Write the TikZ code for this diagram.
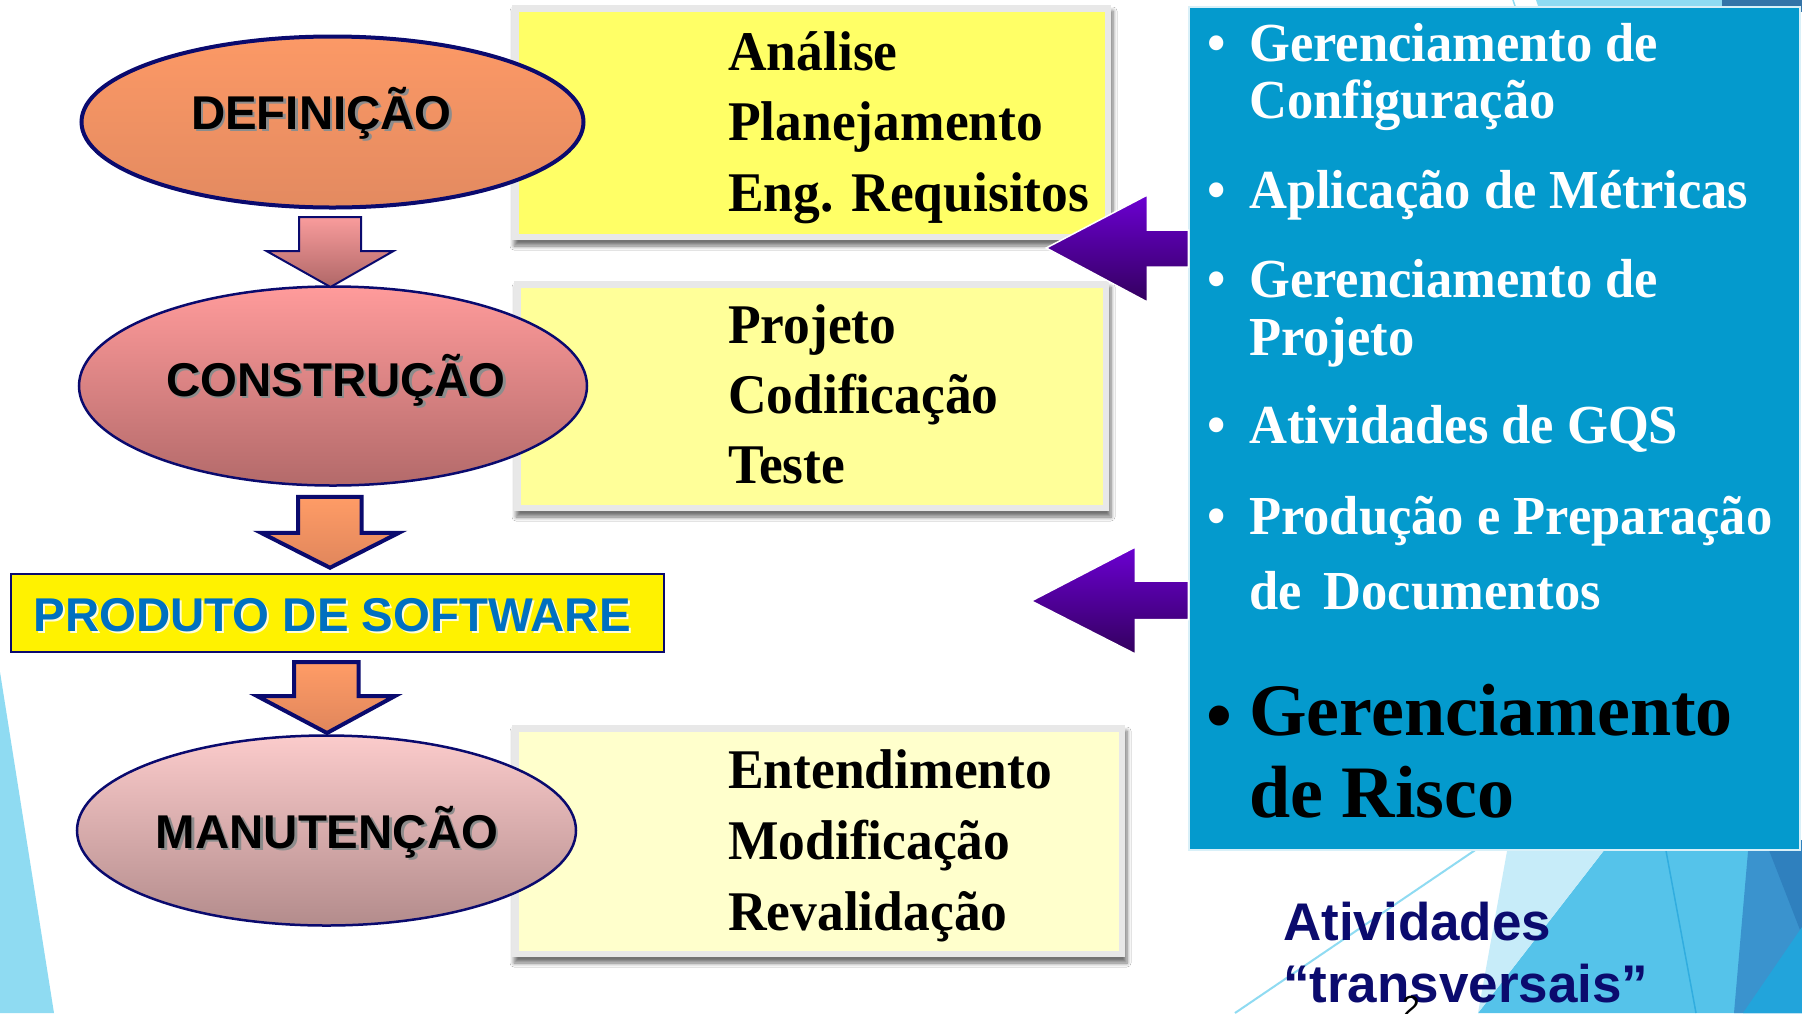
\documentclass[tikz,border=0pt]{standalone}
\usepackage{fontspec}
\usetikzlibrary{shapes.geometric,shadows.blur}
\newfontfamily\serifb{Liberation Serif}[FakeStretch=0.955]
\newfontfamily\serifr{Liberation Serif}
\newfontfamily\sansb{Liberation Sans}
\definecolor{navyA}{HTML}{0A0A6E}
\definecolor{defT}{HTML}{FC9966}
\definecolor{defB}{HTML}{E38A60}
\definecolor{conT}{HTML}{FF9B9B}
\definecolor{conB}{HTML}{B36A6A}
\definecolor{manT}{HTML}{FBCBCB}
\definecolor{manB}{HTML}{B38C8C}
\definecolor{pnkT}{HTML}{F99C9C}
\definecolor{pnkB}{HTML}{AF6767}
\definecolor{orgT}{HTML}{FF9C66}
\definecolor{orgB}{HTML}{E0865C}
\definecolor{yelA}{HTML}{FFFF66}
\definecolor{yelB}{HTML}{FFFF99}
\definecolor{yelC}{HTML}{FFFFCC}
\definecolor{frameg}{HTML}{E8E8E8}
\definecolor{prodblue}{HTML}{0070C0}
\definecolor{panelblue}{HTML}{049ACD}
\definecolor{purT}{HTML}{6B00D2}
\definecolor{purB}{HTML}{33005E}
\definecolor{lblue}{HTML}{8FDBF2}
\definecolor{pale}{HTML}{C7ECF9}
\definecolor{midb}{HTML}{55C3EA}
\definecolor{darkb}{HTML}{3A93CE}
\definecolor{darkerb}{HTML}{2F80BE}
\definecolor{brightb}{HTML}{22A4DB}
\definecolor{topdark}{HTML}{3474A8}
\definecolor{navyT}{HTML}{0B0B6E}
\tikzset{
  ell/.style={ellipse, inner sep=0pt, draw=navyA},
  lbl/.style={font=\sansb\bfseries\fontsize{47.4}{50}\selectfont, anchor=base, inner sep=0pt, text=black},
  lblsh/.style={lbl, text=black!45},
  framebox/.style={rectangle, inner sep=0pt, fill=frameg,
    blur shadow={shadow xshift=2pt, shadow yshift=-6pt, shadow blur radius=4pt, shadow blur steps=6, shadow opacity=55}},
  ytext/.style={font=\serifb\bfseries\fontsize{56}{60}\selectfont, anchor=base west, inner sep=0pt, text=black},
  ptext/.style={font=\serifb\bfseries\fontsize{55}{60}\selectfont, anchor=base west, inner sep=0pt, text=white},
  pbul/.style={font=\serifb\bfseries\fontsize{55}{60}\selectfont, anchor=base, inner sep=0pt, text=white},
  rtext/.style={font=\serifr\bfseries\fontsize{74}{80}\selectfont, anchor=base west, inner sep=0pt, text=black},
  btext/.style={font=\sansb\bfseries\fontsize{53}{56}\selectfont, anchor=base west, inner sep=0pt, text=navyT},
  pinkarrow/.style={top color=pnkT, bottom color=pnkB, draw=navyA, line width=2pt, line join=miter},
  orgarrow/.style={top color=orgT, bottom color=orgB, draw=navyA, line width=4pt, line join=miter},
  purarrow/.style={top color=purT, bottom color=purB, draw=white, line width=1.5pt, line join=miter},
}
\begin{document}
\begin{tikzpicture}[x=1pt,y=-1pt]
\useasboundingbox (0,0) rectangle (1802,1013);
\fill[white] (0,0) rectangle (1802,1013);

% background decorations
\fill[lblue] (0,672) -- (54,1013) -- (0,1013) -- cycle;
\fill[midb] (1612,840) -- (1802,840) -- (1802,1013) -- (1478,1013) -- cycle;
\fill[pale] (1509,840) -- (1612,840) -- (1478,1013) -- cycle;
\draw[color=lblue, line width=2pt] (1490,840) -- (1235,1013);
\draw[color=brightb!70!midb, line width=1.5pt] (1664,840) -- (1696,1013);
\fill[darkb] (1749,840) -- (1802,840) -- (1802,1013) -- (1734,1013) -- cycle;
\fill[darkerb] (1765,840) -- (1802,840) -- (1802,935) -- cycle;
\fill[brightb] (1802,927) -- (1802,1013) -- (1743,1013) -- cycle;
\fill[lblue] (1536,0) -- (1722,0) -- (1722,12) -- (1540,12) -- cycle;
\fill[topdark] (1722,0) -- (1802,0) -- (1802,12) -- (1722,12) -- cycle;
\draw[color=lblue, line width=1.5pt] (1513,0) -- (1517,12);

% yellow boxes
\node[framebox, minimum width=599pt, minimum height=235pt] (b1) at (811.5,122.5) {};
\fill[yelA] ([xshift=7pt,yshift=-7pt]b1.north west) rectangle ([xshift=-6pt,yshift=6pt]b1.south east);
\node[framebox, minimum width=595pt, minimum height=230pt] (b2) at (811.5,396) {};
\fill[yelB] ([xshift=7pt,yshift=-7pt]b2.north west) rectangle ([xshift=-6pt,yshift=6pt]b2.south east);
\node[framebox, minimum width=613pt, minimum height=232pt] (b3) at (818.5,841) {};
\fill[yelC] ([xshift=7pt,yshift=-7pt]b3.north west) rectangle ([xshift=-6pt,yshift=6pt]b3.south east);

\node[ytext] (t11) at (728,70) {Análise};
\node[ytext] (t12) at (728,140) {Planejamento};
\node[ytext] (t13) at (728,211) {Eng. Requisitos};
\node[ytext] (t21) at (728,343) {Projeto};
\node[ytext] (t22) at (728,413) {Codificação};
\node[ytext] (t23) at (728,483) {Teste};
\node[ytext] (t31) at (728,788) {Entendimento};
\node[ytext] (t32) at (728,859) {Modificação};
\node[ytext] (t33) at (728,930) {Revalidação};

% ellipses
\node[ell, line width=4pt, minimum width=502pt, minimum height=171pt, top color=defT, bottom color=defB] (def) at (332.5,122) {};
\node[ell, line width=2.5pt, minimum width=508pt, minimum height=199pt, top color=conT, bottom color=conB] (con) at (333,386) {};
\node[ell, line width=2.5pt, minimum width=499pt, minimum height=190pt, top color=manT, bottom color=manB] (man) at (326.5,830.5) {};

\node[lblsh] (defs) at (324,131.5) {DEFINIÇÃO};
\node[lbl] (deft) at (321.5,129) {DEFINIÇÃO};
\node[lblsh] (cons) at (338.5,398.5) {CONSTRUÇÃO};
\node[lbl] (cont) at (336,396) {CONSTRUÇÃO};
\node[lblsh] (mans) at (329.5,850.5) {MANUTENÇÃO};
\node[lbl] (mant) at (327,848) {MANUTENÇÃO};

% produto box
\node[rectangle, inner sep=0pt, fill=yellow, draw=navyA, line width=2pt, minimum width=653pt, minimum height=78pt] (prod) at (337.5,613) {};
\node[font=\sansb\bfseries\fontsize{47.4}{50}\selectfont, anchor=base west, inner sep=0pt, text=white, opacity=0.85] (prods) at (35.5,633) {PRODUTO DE SOFTWARE};
\node[font=\sansb\bfseries\fontsize{47.4}{50}\selectfont, anchor=base west, inner sep=0pt, text=prodblue] (prodt) at (33.5,631) {PRODUTO DE SOFTWARE};

% down arrows
\shadedraw[pinkarrow] ([xshift=-33.5pt,yshift=-7.5pt]def.south) -- ++(62,0) -- ++(0,34) -- ++(32.5,0) -- ++(-63,36) -- ++(-64,-36) -- ++(32.5,0) -- cycle;
\shadedraw[orgarrow] ([xshift=-35pt,yshift=-10pt]con.south) -- ++(63.6,0) -- ++(0,36) -- ++(37.4,0) -- ++(-69,35) -- ++(-69,-35) -- ++(37,0) -- cycle;
\shadedraw[orgarrow] ([xshift=-43.5pt,yshift=-9pt]prod.south) -- ++(64.5,0) -- ++(0,34) -- ++(36.5,0) -- ++(-68,37) -- ++(-70,-37) -- ++(37,0) -- cycle;

% blue panel
\node[rectangle, inner sep=0pt, fill=panelblue, draw=white!85!panelblue, line width=1.5pt, minimum width=611pt, minimum height=843pt] (panel) at (1494.5,428.5) {};

% purple arrows
\shadedraw[purarrow] ([yshift=198.5pt]panel.west) -- ++(-41,0) -- ++(0,-35) -- ++(-101,53) -- ++(101,54) -- ++(0,-35) -- ++(41,0) -- cycle;
\shadedraw[purarrow] ([yshift=-152.5pt]panel.west) -- ++(-53,0) -- ++(0,-34) -- ++(-104,54) -- ++(104,53) -- ++(0,-34.5) -- ++(53,0) -- cycle;

% panel texts
\node[pbul] (u1) at (1217,61) {\textbullet};
\node[ptext] (p11) at (1249,61) {Gerenciamento de};
\node[ptext] (p12) at (1249,118) {Configuração};
\node[pbul] (u2) at (1217,208) {\textbullet};
\node[ptext] (p21) at (1249,208) {Aplicação de Métricas};
\node[pbul] (u3) at (1217,297) {\textbullet};
\node[ptext] (p31) at (1249,297) {Gerenciamento de};
\node[ptext] (p32) at (1249,355) {Projeto};
\node[pbul] (u4) at (1217,443) {\textbullet};
\node[ptext] (p41) at (1249,443) {Atividades de GQS};
\node[pbul] (u5) at (1217,534) {\textbullet};
\node[ptext] (p51) at (1249,534) {Produção e Preparação};
\node[ptext] (p52) at (1249,609) {de\hspace{0.4em}Documentos};
\node[font=\serifr\bfseries\fontsize{74}{80}\selectfont, anchor=base, inner sep=0pt, text=black] (u6) at (1219,740) {\textbullet};
\node[rtext] (p61) at (1249,735) {Gerenciamento};
\node[rtext] (p62) at (1249,817) {de Risco};

% bottom label
\node[btext] (at1) at (1283,940) {Atividades};
\node[btext] (at2) at (1283,1002) {“transversais”};
\node[font=\sansb\fontsize{32}{34}\selectfont, anchor=base, inner sep=0pt, text=black] (pgno) at (1411,1018) {2};
\end{tikzpicture}
\end{document}
